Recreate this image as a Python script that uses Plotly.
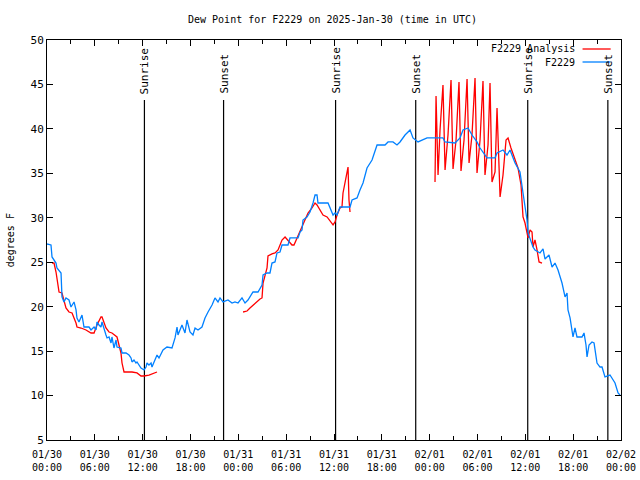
import pandas as pd
import plotly.graph_objects as go

BASE = pd.Timestamp("2025-01-30 00:00")

# Observed dew point (F2229), hours since 01/30 00:00 UTC
obs_hours = [0.00, 0.50, 0.63, 1.13, 1.25, 1.76, 1.88, 2.13, 2.38, 2.76, 3.01, 3.39, 3.64, 3.76, 4.01,
             4.27, 4.39, 4.64, 4.89, 5.27, 5.52, 5.90, 6.15, 6.27, 6.52, 6.77, 6.90, 7.15, 7.40, 7.53,
             7.78, 8.03, 8.15, 8.40, 8.66, 8.78, 9.28, 9.41, 9.91, 10.29, 10.54, 10.66, 10.91, 11.16,
             11.29, 11.79, 12.17, 12.42, 12.54, 12.79, 13.05, 13.17, 13.42, 13.80, 14.05, 14.30, 14.55,
             15.05, 15.68, 16.06, 16.31, 16.43, 16.93, 17.31, 17.56, 17.94, 18.31, 18.57, 18.94, 19.44,
             19.82, 20.20, 20.70, 21.07, 21.45, 21.70, 22.08, 22.70, 23.21, 23.58, 23.96, 24.46, 24.84,
             25.21, 25.84, 26.47, 26.97, 27.10, 27.60, 27.97, 28.22, 28.60, 28.85, 29.23, 29.48, 30.23,
             30.48, 31.49, 31.74, 31.99, 32.11, 32.61, 32.99, 33.37, 33.62, 33.87, 33.99, 35.25, 35.75,
             35.88, 36.13, 36.38, 36.75, 38.01, 38.26, 38.89, 39.26, 39.64, 40.14, 40.77, 41.40, 42.40,
             42.78, 43.40, 43.90, 44.28, 44.91, 45.54, 45.91, 46.54, 47.67, 49.67, 49.93, 51.18, 51.81,
             52.18, 52.81, 53.31, 53.94, 54.32, 55.19, 56.20, 56.45, 57.20, 57.70, 58.08, 58.71, 59.33,
             59.71, 60.21, 60.34, 60.96, 61.21, 61.84, 62.22, 62.47, 62.97, 63.35, 63.72, 64.10, 64.60,
             64.98, 65.23, 65.35, 65.61, 65.98, 66.23, 66.48, 67.11, 67.36, 67.61, 67.74, 67.99, 68.36,
             68.62, 68.99, 69.37, 69.62, 69.99, 70.62, 71.25, 71.63, 71.88]
obs_dewpt = [27.05, 26.94, 25.59, 24.91, 24.35, 23.79, 21.09, 20.53, 20.98, 20.75, 19.96, 20.53, 19.63,
             18.73, 18.28, 18.84, 19.06, 17.71, 17.71, 17.71, 17.38, 17.71, 17.38, 18.28, 17.94, 17.71,
             18.28, 17.38, 16.81, 16.48, 16.59, 15.91, 16.59, 15.35, 16.25, 15.46, 15.35, 14.79, 14.79,
             14.56, 14.23, 13.78, 14.00, 13.66, 13.78, 13.10, 12.88, 13.21, 13.66, 13.44, 13.66, 13.21,
             13.78, 14.56, 14.23, 14.79, 15.13, 15.46, 15.35, 16.48, 17.71, 16.81, 17.94, 17.04, 18.50,
             17.15, 16.81, 17.60, 17.38, 17.71, 18.73, 19.40, 20.19, 20.98, 20.53, 20.98, 20.53, 20.75,
             20.41, 20.53, 20.41, 20.98, 20.41, 20.75, 21.65, 21.65, 22.44, 23.56, 23.79, 23.79, 24.91,
             25.03, 26.04, 26.15, 26.94, 26.94, 27.73, 27.73, 28.40, 28.63, 29.75, 30.09, 30.65, 31.66,
             32.56, 32.56, 31.66, 31.66, 30.65, 30.31, 30.54, 30.31, 31.21, 31.21, 32.00, 32.23, 33.13,
             33.91, 35.60, 36.50, 38.19, 38.19, 38.53, 38.53, 38.19, 38.53, 39.31, 39.88, 38.98, 38.53,
             38.98, 38.98, 38.53, 38.41, 38.98, 39.88, 40.10, 39.31, 38.53, 37.85, 36.73, 36.73, 37.29,
             37.63, 37.06, 37.63, 36.16, 35.15, 32.79, 29.75, 28.29, 26.71, 26.38, 26.04, 26.49, 25.36,
             25.81, 24.46, 24.91, 24.13, 22.66, 21.09, 21.54, 19.63, 18.73, 16.59, 17.60, 16.59, 16.59,
             17.04, 15.69, 14.34, 15.69, 16.03, 15.91, 13.66, 13.21, 13.21, 12.09, 12.31, 11.41, 10.29,
             10.06]

# Analysis dew point (None = gap in the analysis record)
ana_hours = [0.63, 0.88, 1.13, 1.25, 1.51, 1.88, 2.38, 2.76, 3.14, 3.64, 3.76, 4.27, 4.89, 5.52, 5.90,
             6.27, 6.77, 6.90, 7.40, 7.78, 8.15, 8.78, 9.28, 9.41, 9.66, 10.66, 11.29, 11.79, 12.17,
             12.79, 13.42, 13.80,
             None,
             24.59, 25.09, 25.46, 25.84, 26.34, 26.72, 26.97, 27.10, 27.60, 27.72, 28.22, 28.60, 28.98,
             29.48, 29.86, 30.23, 30.73, 30.98, 31.36, 31.74, 32.36, 32.74, 33.24, 33.62, 33.87, 34.25,
             34.62, 35.13, 35.75, 35.88, 36.13, 36.38, 36.75, 37.00, 37.13, 37.38, 37.63, 37.76, 37.88,
             38.01,
             None,
             48.67, 48.80, 49.05, 49.30, 49.67, 49.93, 50.30, 50.68, 50.93, 51.31, 51.68, 51.93, 52.31,
             52.69, 52.94, 53.31, 53.69, 53.94, 54.32, 54.69, 54.94, 55.32, 55.57, 55.82, 56.20, 56.45,
             56.83, 57.20, 57.58, 57.83, 58.20, 58.71, 59.08, 59.46, 59.71, 59.96, 60.21, 60.34, 60.59,
             60.84, 60.96, 61.21, 61.47, 61.72, 62.09]
ana_dewpt = [24.91, 24.91, 23.90, 23.00, 21.65, 21.54, 19.85, 19.40, 19.29, 18.16, 17.71, 17.60, 17.38,
             17.04, 17.04, 17.94, 18.84, 18.84, 17.60, 17.15, 17.04, 16.59, 14.79, 13.66, 12.65, 12.65,
             12.54, 12.20, 12.20, 12.31, 12.54, 12.65,
             None,
             19.40, 19.51, 19.85, 20.19, 20.53, 20.86, 20.98, 22.66, 24.35, 25.70, 25.93, 26.04, 26.38,
             27.50, 27.84, 27.50, 26.94, 26.94, 27.73, 28.40, 29.75, 30.54, 31.10, 31.66, 31.44, 30.88,
             30.31, 30.09, 29.41, 29.19, 29.53, 30.31, 31.10, 31.21, 32.79, 34.03, 35.38, 35.71, 32.00,
             30.65,
             None,
             34.03, 43.70, 34.81, 39.88, 44.94, 35.38, 39.31, 45.50, 35.49, 38.75, 45.28, 35.26, 38.75,
             45.61, 36.16, 39.31, 45.73, 35.04, 38.75, 45.39, 34.81, 38.19, 45.16, 34.03, 35.15, 42.35,
             32.34, 34.81, 38.75, 38.98, 37.85, 36.50, 35.60, 33.69, 30.09, 29.41, 28.40, 27.73, 28.63,
             28.40, 26.71, 27.50, 26.38, 25.03, 24.91]

# Sunrise / sunset events
sun_labels = ["Sunrise", "Sunset", "Sunrise", "Sunset", "Sunrise", "Sunset"]
sun_hours = [12.22, 22.15, 36.20, 46.25, 60.30, 70.35]
sun_line_top = 43.25

tick_hours = [0, 6, 12, 18, 24, 30, 36, 42, 48, 54, 60, 66, 72]
tick_text = ["01/30<br>00:00", "01/30<br>06:00", "01/30<br>12:00", "01/30<br>18:00",
             "01/31<br>00:00", "01/31<br>06:00", "01/31<br>12:00", "01/31<br>18:00",
             "02/01<br>00:00", "02/01<br>06:00", "02/01<br>12:00", "02/01<br>18:00",
             "02/02<br>00:00"]


def to_time(hours):
    return [None if h is None else BASE + pd.Timedelta(hours=h) for h in hours]


FONT = "DejaVu Sans Mono"
FS = 10
fig = go.Figure()

# sunrise/sunset vertical lines
vx, vy = [], []
for h in sun_hours:
    t = BASE + pd.Timedelta(hours=h)
    vx += [t, t, None]
    vy += [5, sun_line_top, None]
fig.add_trace(go.Scatter(x=vx, y=vy, mode="lines", line=dict(color="black", width=1.2),
                         showlegend=False, hoverinfo="skip"))

fig.add_trace(go.Scatter(x=to_time(ana_hours), y=ana_dewpt, mode="lines", name="F2229 Analysis",
                         line=dict(color="#ff0000", width=1.3), connectgaps=False, showlegend=False))
fig.add_trace(go.Scatter(x=to_time(obs_hours), y=obs_dewpt, mode="lines", name="F2229",
                         line=dict(color="#0080ff", width=1.3), showlegend=False))

for lab, h in zip(sun_labels, sun_hours):
    fig.add_annotation(x=BASE + pd.Timedelta(hours=h), y=sun_line_top, xref="x", yref="y",
                       text=lab, textangle=-90, showarrow=False, xanchor="center", yanchor="bottom",
                       yshift=4, font=dict(family=FONT, size=FS + 1, color="black"))

# legend (gnuplot style: text right-aligned, sample line to the right)
leg = [("F2229 Analysis", "#ff0000", 0.9775), ("F2229", "#0080ff", 0.945)]
for text, col, yp in leg:
    fig.add_annotation(x=0.923, y=yp, xref="paper", yref="paper", text=text, showarrow=False,
                       xanchor="right", yanchor="middle", font=dict(family=FONT, size=FS, color="black"))
    fig.add_shape(type="line", xref="paper", yref="paper", x0=0.933, x1=0.982, y0=yp, y1=yp,
                  line=dict(color=col, width=1.3))

fig.add_annotation(x=-0.064, y=0.5, xref="paper", yref="paper", text="degrees F", textangle=-90,
                   showarrow=False, xanchor="center", yanchor="middle",
                   font=dict(family=FONT, size=FS, color="black"))

fig.add_annotation(x=0.497, y=1.05, xref="paper", yref="paper",
                   text="Dew Point for F2229 on 2025-Jan-30 (time in UTC)", showarrow=False,
                   xanchor="center", yanchor="middle", font=dict(family=FONT, size=FS, color="black"))

fig.update_layout(
    width=640, height=480,
    margin=dict(l=47, r=19, t=40, b=40, autoexpand=False),
    paper_bgcolor="white", plot_bgcolor="white",
    font=dict(family=FONT, size=FS, color="black"),
    showlegend=False,
)
fig.update_xaxes(
    type="date", automargin=False,
    range=[BASE, BASE + pd.Timedelta(hours=72)],
    tickvals=to_time(tick_hours), ticktext=tick_text, ticklabelstandoff=5,
    ticks="inside", ticklen=6, tickcolor="black", showline=True, linecolor="black", linewidth=1,
    mirror="allticks", showgrid=False, zeroline=False,
    minor=dict(dtick=3 * 3600 * 1000, ticks="inside", ticklen=4, tickcolor="black", showgrid=False),
    tickfont=dict(family=FONT, size=FS, color="black"),
)
fig.update_yaxes(
    range=[5, 50], tickvals=[5, 10, 15, 20, 25, 30, 35, 40, 45, 50], automargin=False,
    ticks="inside", ticklen=6, tickcolor="black", showline=True, linecolor="black", linewidth=1,
    mirror="allticks", showgrid=False, zeroline=False,
    tickfont=dict(family=FONT, size=FS + 1, color="black"),
)

# remove the default 8px page margin so the 640x480 figure fills the window exactly
fig.write_html("out.html", config={"displayModeBar": False},
               post_script="document.body.style.margin='0';")
